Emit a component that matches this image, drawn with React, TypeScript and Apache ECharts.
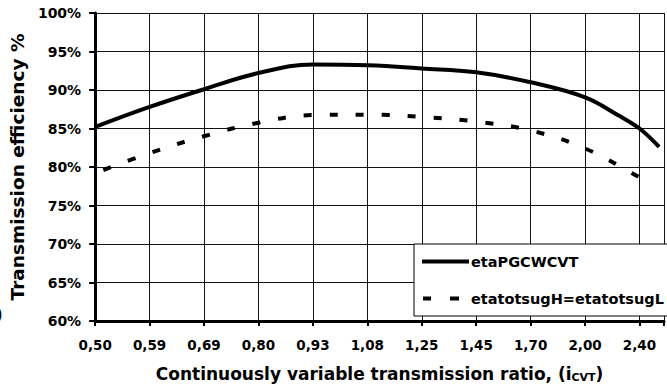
import React, { useEffect, useRef } from 'react';
import * as echarts from 'echarts';

const xTickLabels = ['0,50', '0,59', '0,69', '0,80', '0,93', '1,08', '1,25', '1,45', '1,70', '2,00', '2,40'];
const seriesNames = ['etaPGCWCVT', 'etatotsugH=etatotsugL'];
// positions along the category scale (index of tick label) and efficiency values in %
const solidX = [0, 1, 2, 3, 4, 5, 6, 7, 8, 9, 9.6, 10, 10.36];
const solidY = [85.2, 87.8, 90.1, 92.2, 93.3, 93.2, 92.8, 92.3, 91.0, 89.05, 86.75, 85.0, 82.6];
const dashedX = [0, 1, 2, 3, 4, 5, 6, 7, 8, 9, 10, 10.17];
const dashedY = [79.2, 81.8, 84.0, 85.75, 86.75, 86.8, 86.5, 85.9, 84.75, 82.4, 78.65, 77.9];
const yMin = 60;
const yMax = 100;
const yStep = 5;

const FONT = 'DejaVu Sans';

export default function App() {
  const ref = useRef<HTMLDivElement>(null);
  useEffect(() => {
    document.body.style.margin = '0';
    const chart = echarts.init(ref.current!, null, { renderer: 'svg' });
    const solidData = solidX.map((x, i) => [x, solidY[i]]);
    const dashedData = dashedX.map((x, i) => [x, dashedY[i]]);
    const solidStyle = { color: '#000', width: 4 };
    const dashedStyle = { color: '#000', width: 4, type: [8, 18], dashOffset: 17, cap: 'butt' };
    chart.setOption({
      animation: false,
      backgroundColor: '#fff',
      grid: { left: 89, right: 0, top: 13, bottom: 70, containLabel: false },
      xAxis: {
        type: 'value',
        min: 0,
        max: 10.45,
        interval: 1,
        name: 'Continuously variable transmission ratio, (i{sub|CVT})',
        nameLocation: 'middle',
        nameGap: 44,
        nameTextStyle: {
          fontFamily: FONT,
          fontWeight: 'bold',
          fontSize: 17,
          color: '#000',
          rich: {
            sub: { fontFamily: FONT, fontWeight: 'bold', fontSize: 11, color: '#000', padding: [7, 0, 0, 0] },
          },
        },
        axisLine: { show: true, onZero: false, lineStyle: { color: '#000', width: 3 } },
        axisTick: { show: true, length: 5, lineStyle: { color: '#000', width: 2 } },
        axisLabel: {
          margin: 17,
          fontFamily: FONT,
          fontWeight: 'bold',
          fontSize: 13.5,
          color: '#000',
          formatter: (v: number) => (Number.isInteger(v) ? xTickLabels[v] ?? '' : ''),
        },
        splitLine: { show: true, lineStyle: { color: '#111', width: 1 } },
      },
      yAxis: {
        type: 'value',
        min: yMin,
        max: yMax,
        interval: yStep,
        name: 'Transmission efficiency %',
        nameLocation: 'middle',
        nameGap: 62,
        nameTextStyle: { fontFamily: FONT, fontWeight: 'bold', fontSize: 18.5, color: '#000' },
        axisLine: { show: true, lineStyle: { color: '#000', width: 3 } },
        axisTick: { show: true, length: 6, lineStyle: { color: '#000', width: 2 } },
        axisLabel: {
          margin: 14,
          fontFamily: FONT,
          fontWeight: 'bold',
          fontSize: 14,
          color: '#000',
          formatter: '{value}%',
        },
        splitLine: { show: true, lineStyle: { color: '#111', width: 1 } },
      },
      legend: {
        orient: 'vertical',
        left: 414,
        top: 244,
        backgroundColor: '#fff',
        borderColor: '#000',
        borderWidth: 1,
        padding: [10, 8, 10, 6],
        itemWidth: 47,
        itemHeight: 14,
        itemGap: 22,
        itemStyle: { opacity: 0 },
        textStyle: { fontFamily: FONT, fontWeight: 'bold', fontSize: 14.5, color: '#000', padding: [0, 0, 0, -3] },
        data: [
          { name: seriesNames[0], lineStyle: { ...solidStyle } },
          {
            name: seriesNames[1],
            icon: 'path://M0,0M47,14M1,5h8v4h-8zM28,5h9v4h-9z',
            itemStyle: { opacity: 1, color: '#000', borderWidth: 0 },
          },
        ],
      },
      graphic: [
        {
          type: 'text',
          left: -5,
          top: 306,
          style: { text: ')', fontFamily: FONT, fontWeight: 'bold', fontSize: 17, fill: '#000' },
        },
      ],
      series: [
        {
          name: seriesNames[0],
          type: 'line',
          data: solidData,
          smooth: 0.4,
          symbol: 'none',
          showSymbol: false,
          lineStyle: solidStyle,
          itemStyle: { color: '#000' },
        },
        {
          name: seriesNames[1],
          type: 'line',
          data: dashedData,
          smooth: 0.4,
          symbol: 'none',
          showSymbol: false,
          lineStyle: dashedStyle,
          itemStyle: { color: '#000' },
        },
      ],
    });
    return () => chart.dispose();
  }, []);
  return <div ref={ref} style={{ width: 667, height: 391 }} />;
}
